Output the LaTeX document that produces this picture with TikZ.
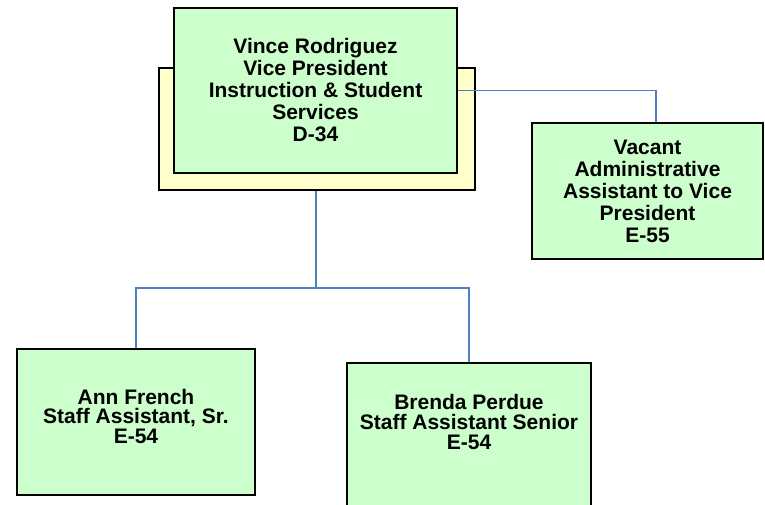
\documentclass[tikz,border=0pt]{standalone}
\usepackage{fontspec}
\setmainfont{Liberation Sans}
\definecolor{boxgreen}{RGB}{204,255,204}
\definecolor{boxyellow}{RGB}{255,255,204}
\definecolor{linkblue}{RGB}{79,129,189}
\begin{document}
\begin{tikzpicture}[x=1pt,y=-1pt,
  box/.style={draw=black,line width=1.5pt,fill=boxgreen,rectangle,inner sep=0pt,align=center,
    font=\bfseries\fontsize{21}{22}\selectfont},
  txt/.style={inner sep=0pt,align=center,font=\bfseries\fontsize{21}{20}\selectfont},
  link/.style={draw=linkblue,line width=1.5pt}]
\useasboundingbox (0,0) rectangle (765,505);
\clip (0,0) rectangle (765,505);
% back shadow box
\node[draw=black,line width=1.5pt,fill=boxyellow,minimum width=316pt,minimum height=122pt,inner sep=0pt] (back) at (317,129) {};
\node[box,minimum width=283pt,minimum height=165pt] (top) at (315.5,90.5)
  {Vince Rodriguez\\Vice President\\Instruction \& Student\\Services\\D-34};
\node[box,minimum width=231pt,minimum height=136pt] (vacant) at (647.5,191)
  {Vacant\\Administrative\\Assistant to Vice\\President\\E-55};
\node[box,line width=2.5pt,minimum width=238pt,minimum height=146pt] (ann) at (136,422) {};
\node[txt,font=\bfseries\fontsize{21}{19.5}\selectfont] (anntext) at (136,416)
  {Ann French\\Staff Assistant, Sr.\\E-54};
\node[box,minimum width=244pt,minimum height=170pt] (brenda) at (469,448) {};
\node[txt] (brendatext) at (469,421.5)
  {Brenda Perdue\\Staff Assistant Senior\\E-54};
% connectors
\draw[link] (top.east) -| ([xshift=8.5pt]vacant.north);
\draw[link] ([xshift=-1pt]back.south) -- ++(0,97) coordinate (j);
\draw[link] (ann.north) |- (j) -| (brenda.north);
\end{tikzpicture}
\end{document}
